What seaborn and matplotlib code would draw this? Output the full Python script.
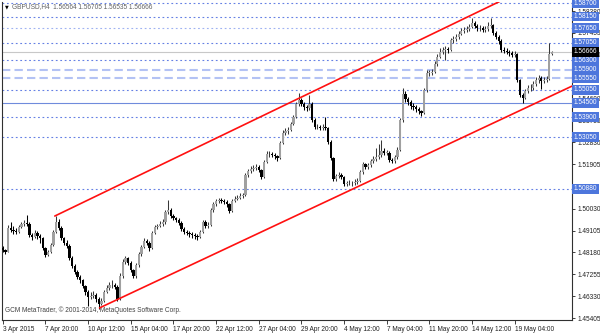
import numpy as np
import pandas as pd
import matplotlib
matplotlib.use("Agg")
import matplotlib.pyplot as plt
import matplotlib.transforms as mtransforms
import seaborn as sns

# ---------------- data (GBPUSD H4) ----------------
first_open = 1.4835
closes = [
    1.4829, 1.4820, 1.4922, 1.4913, 1.4909, 1.4905, 1.4926, 1.4939, 1.4943, 1.4939,
    1.4892, 1.4884, 1.4901, 1.4888, 1.4879, 1.4837, 1.4808, 1.4820, 1.4850, 1.4905,
    1.4947, 1.4922, 1.4879, 1.4858, 1.4846, 1.4795, 1.4761, 1.4736, 1.4715, 1.4702,
    1.4677, 1.4651, 1.4630, 1.4634, 1.4639, 1.4622, 1.4601, 1.4613, 1.4651, 1.4668,
    1.4681, 1.4681, 1.4672, 1.4622, 1.4719, 1.4778, 1.4795, 1.4774, 1.4744, 1.4719,
    1.4765, 1.4812, 1.4841, 1.4867, 1.4858, 1.4837, 1.4901, 1.4926, 1.4930, 1.4939,
    1.4947, 1.4989, 1.4998, 1.4972, 1.4964, 1.4955, 1.4943, 1.4918, 1.4905, 1.4901,
    1.4896, 1.4892, 1.4888, 1.4884, 1.4905, 1.4947, 1.4930, 1.4934, 1.4998, 1.5023,
    1.5036, 1.5040, 1.5036, 1.5032, 1.5023, 1.4994, 1.5036, 1.5044, 1.5049, 1.5057,
    1.5061, 1.5146, 1.5162, 1.5171, 1.5175, 1.5179, 1.5167, 1.5137, 1.5200, 1.5234,
    1.5234, 1.5230, 1.5226, 1.5217, 1.5281, 1.5323, 1.5332, 1.5336, 1.5361, 1.5391,
    1.5446, 1.5463, 1.5446, 1.5433, 1.5429, 1.5446, 1.5378, 1.5348, 1.5348, 1.5344,
    1.5348, 1.5344, 1.5285, 1.5217, 1.5129, 1.5141, 1.5146, 1.5137, 1.5108, 1.5112,
    1.5112, 1.5112, 1.5116, 1.5120, 1.5158, 1.5192, 1.5179, 1.5188, 1.5205, 1.5213,
    1.5222, 1.5230, 1.5247, 1.5239, 1.5239, 1.5209, 1.5205, 1.5222, 1.5251, 1.5378,
    1.5488, 1.5467, 1.5454, 1.5437, 1.5433, 1.5425, 1.5416, 1.5408, 1.5505, 1.5577,
    1.5577, 1.5581, 1.5615, 1.5644, 1.5665, 1.5674, 1.5678, 1.5674, 1.5716, 1.5720,
    1.5729, 1.5741, 1.5754, 1.5758, 1.5762, 1.5771, 1.5788, 1.5775, 1.5767, 1.5767,
    1.5758, 1.5762, 1.5775, 1.5779, 1.5746, 1.5729, 1.5712, 1.5674, 1.5670, 1.5665,
    1.5661, 1.5653, 1.5657, 1.5547, 1.5484, 1.5471, 1.5500, 1.5513, 1.5513, 1.5530,
    1.5547, 1.5555, 1.5543, 1.5547, 1.5551, 1.56564, 1.56666,
]
highs = [
    1.4845, 1.4833, 1.4935, 1.4945, 1.4930, 1.4922, 1.4935, 1.4948, 1.4955, 1.4975,
    1.4945, 1.4900, 1.4915, 1.4910, 1.4895, 1.4885, 1.4842, 1.4830, 1.4858, 1.4915,
    1.4972, 1.4960, 1.4928, 1.4885, 1.4870, 1.4852, 1.4802, 1.4770, 1.4742, 1.4722,
    1.4708, 1.4682, 1.4660, 1.4650, 1.4655, 1.4648, 1.4630, 1.4625, 1.4660, 1.4680,
    1.4695, 1.4700, 1.4690, 1.4680, 1.4730, 1.4790, 1.4805, 1.4800, 1.4780, 1.4750,
    1.4775, 1.4822, 1.4850, 1.4878, 1.4875, 1.4865, 1.4910, 1.4935, 1.4940, 1.4950,
    1.4958, 1.4998, 1.5040, 1.5005, 1.4980, 1.4970, 1.4962, 1.4950, 1.4925, 1.4915,
    1.4910, 1.4905, 1.4900, 1.4895, 1.4912, 1.4955, 1.4955, 1.4945, 1.5005, 1.5032,
    1.5045, 1.5050, 1.5048, 1.5044, 1.5038, 1.5028, 1.5045, 1.5055, 1.5060, 1.5068,
    1.5070, 1.5155, 1.5172, 1.5185, 1.5188, 1.5190, 1.5186, 1.5172, 1.5210, 1.5245,
    1.5248, 1.5242, 1.5238, 1.5232, 1.5290, 1.5335, 1.5345, 1.5348, 1.5370, 1.5400,
    1.5455, 1.5492, 1.5470, 1.5455, 1.5442, 1.5484, 1.5452, 1.5385, 1.5360, 1.5358,
    1.5360, 1.5391, 1.5350, 1.5292, 1.5222, 1.5150, 1.5158, 1.5152, 1.5142, 1.5122,
    1.5125, 1.5122, 1.5128, 1.5132, 1.5168, 1.5200, 1.5198, 1.5198, 1.5215, 1.5225,
    1.5260, 1.5275, 1.5293, 1.5258, 1.5250, 1.5245, 1.5218, 1.5232, 1.5262, 1.5388,
    1.5513, 1.5500, 1.5475, 1.5462, 1.5448, 1.5440, 1.5432, 1.5422, 1.5515, 1.5588,
    1.5590, 1.5595, 1.5625, 1.5655, 1.5680, 1.5688, 1.5690, 1.5688, 1.5725, 1.5732,
    1.5740, 1.5752, 1.5765, 1.5770, 1.5775, 1.5785, 1.5809, 1.5795, 1.5782, 1.5780,
    1.5775, 1.5775, 1.5790, 1.5809, 1.5785, 1.5752, 1.5735, 1.5718, 1.5685, 1.5680,
    1.5675, 1.5668, 1.5668, 1.5662, 1.5552, 1.5490, 1.5510, 1.5525, 1.5528, 1.5542,
    1.5560, 1.5568, 1.5562, 1.5558, 1.5562, 1.5703, 1.56705,
]
lows = [
    1.4822, 1.4812, 1.4818, 1.4905, 1.4898, 1.4895, 1.4900, 1.4920, 1.4930, 1.4930,
    1.4885, 1.4870, 1.4878, 1.4875, 1.4860, 1.4830, 1.4800, 1.4802, 1.4815, 1.4845,
    1.4900, 1.4915, 1.4870, 1.4848, 1.4835, 1.4788, 1.4752, 1.4728, 1.4705, 1.4690,
    1.4668, 1.4640, 1.4590, 1.4620, 1.4625, 1.4610, 1.4580, 1.4595, 1.4608, 1.4645,
    1.4660, 1.4670, 1.4662, 1.4615, 1.4618, 1.4712, 1.4770, 1.4765, 1.4735, 1.4710,
    1.4712, 1.4758, 1.4805, 1.4835, 1.4848, 1.4825, 1.4832, 1.4895, 1.4918, 1.4925,
    1.4932, 1.4940, 1.4982, 1.4965, 1.4955, 1.4945, 1.4935, 1.4910, 1.4895, 1.4890,
    1.4885, 1.4880, 1.4875, 1.4870, 1.4878, 1.4900, 1.4920, 1.4920, 1.4928, 1.4990,
    1.5015, 1.5028, 1.5028, 1.5022, 1.5012, 1.4985, 1.4990, 1.5030, 1.5038, 1.5042,
    1.5048, 1.5055, 1.5138, 1.5155, 1.5162, 1.5165, 1.5158, 1.5128, 1.5132, 1.5195,
    1.5222, 1.5220, 1.5215, 1.5205, 1.5212, 1.5275, 1.5315, 1.5320, 1.5330, 1.5355,
    1.5385, 1.5438, 1.5435, 1.5422, 1.5415, 1.5420, 1.5370, 1.5340, 1.5338, 1.5335,
    1.5336, 1.5335, 1.5278, 1.5208, 1.5120, 1.5122, 1.5132, 1.5128, 1.5100, 1.5098,
    1.5102, 1.5100, 1.5104, 1.5108, 1.5115, 1.5150, 1.5170, 1.5172, 1.5180, 1.5198,
    1.5205, 1.5215, 1.5222, 1.5228, 1.5228, 1.5200, 1.5195, 1.5198, 1.5215, 1.5245,
    1.5370, 1.5455, 1.5440, 1.5425, 1.5420, 1.5412, 1.5405, 1.5395, 1.5402, 1.5498,
    1.5565, 1.5568, 1.5575, 1.5608, 1.5638, 1.5655, 1.5630, 1.5660, 1.5668, 1.5705,
    1.5712, 1.5722, 1.5735, 1.5745, 1.5748, 1.5752, 1.5765, 1.5765, 1.5755, 1.5755,
    1.5748, 1.5750, 1.5755, 1.5765, 1.5738, 1.5720, 1.5700, 1.5665, 1.5660, 1.5655,
    1.5650, 1.5642, 1.5645, 1.5540, 1.5475, 1.5450, 1.5465, 1.5492, 1.5500, 1.5505,
    1.5522, 1.5535, 1.5510, 1.5532, 1.5538, 1.5545, 1.56535,
]

x_tick_bars = [0, 16, 32, 48, 64, 80, 96, 112, 128, 144, 160, 176, 192]
x_tick_labels = ["3 Apr 2015", "7 Apr 20:00", "10 Apr 12:00", "15 Apr 04:00",
                 "17 Apr 20:00", "22 Apr 12:00", "27 Apr 04:00", "29 Apr 20:00",
                 "4 May 12:00", "7 May 04:00", "11 May 20:00", "14 May 12:00",
                 "19 May 04:00"]
y_tick_values = [1.45405, 1.46330, 1.47255, 1.48180, 1.49105, 1.50030, 1.50955,
                 1.51905, 1.52830, 1.53755, 1.54680, 1.55605, 1.56530, 1.57455,
                 1.58380]
# labels hidden behind level boxes in the original are left blank
y_tick_labels = ["1.45405", "1.46330", "1.47255", "1.48180", "1.49105", "1.50030",
                 "", "1.51905", "1.52830", "1.53755", "1.54680", "",
                 "1.56530", "1.57455", "1.58380"]

levels_dotted = [1.58700, 1.58150, 1.57650, 1.57050, 1.56300, 1.55050,
                 1.53900, 1.53050, 1.50880]
levels_dashed = [1.55900, 1.55550]
levels_solid = [1.54500]
current_price = 1.56666

# channel trend lines (bar index, price)
upper_x = [19.5, 213.5]
upper_y = [1.4972, 1.6026]
lower_x = [36.3, 213.5]
lower_y = [1.4584, 1.5521]

title_text = "GBPUSD,H4  1.56564 1.56705 1.56535 1.56666"
copyright_text = "GCM MetaTrader, \u00a9 2001-2014, MetaQuotes Software Corp."

# ---------------- plotting ----------------
sns.set_theme(style="white")
plt.rcParams["font.family"] = ["Liberation Sans", "DejaVu Sans"]

FS = 4.7

fig = plt.figure(figsize=(6, 3.33), dpi=100)
fig.patch.set_facecolor("white")
ax = fig.add_axes([2 / 600, 13 / 333, 570 / 600, 318 / 333])
ax.set_facecolor("white")

opens = [first_open] + closes[:-1]   # each H4 bar opens at the prior close
df = pd.DataFrame(dict(bar=np.arange(len(closes)), open=opens, high=highs,
                       low=lows, close=closes))
bull = df["close"] >= df["open"]
body = (df["close"] - df["open"]).abs().clip(lower=0.00015)
bottom = df[["open", "close"]].min(axis=1)

# horizontal levels
for lv in levels_dotted:
    col = "#9fb2f2" if abs(lv - 1.57650) < 1e-6 else "#6580e4"
    ax.axhline(lv, color=col, lw=0.8, ls=(0, (1.6, 2.4)), zorder=1)
for lv in levels_dashed:
    ax.axhline(lv, color="#b3c2f4", lw=1.5, ls=(0, (4, 2)), zorder=1)
for lv in levels_solid:
    ax.axhline(lv, color="#6f8bdc", lw=0.8, zorder=1)
ax.axhline(current_price, color="#c8c8c8", lw=0.8, zorder=1)

# candles
ax.vlines(df["bar"][bull], df["low"][bull], df["high"][bull],
          color="#383838", lw=0.75, zorder=3)
ax.vlines(df["bar"][~bull], df["low"][~bull], df["high"][~bull],
          color="black", lw=0.75, zorder=3)
ax.bar(df["bar"][bull], body[bull], bottom=bottom[bull], width=0.85,
       color="#a0a0a0", edgecolor="none", zorder=4)
ax.bar(df["bar"][~bull], body[~bull], bottom=bottom[~bull], width=0.85,
       color="black", edgecolor="none", zorder=4)

# channel
sns.lineplot(x=upper_x, y=upper_y, ax=ax, color="#ff1010", lw=1.2,
             estimator=None, sort=False, zorder=5)
sns.lineplot(x=lower_x, y=lower_y, ax=ax, color="#ff1010", lw=1.2,
             estimator=None, sort=False, zorder=5)

ax.set_xlim(-0.3, 213.5)
ax.set_ylim(1.45328, 1.58763)

# axes styling
for s in ["left", "right", "bottom"]:
    ax.spines[s].set_visible(True)
    ax.spines[s].set_color("#303030")
    ax.spines[s].set_linewidth(0.8)
ax.spines["top"].set_visible(False)

ax.yaxis.tick_right()
ax.set_yticks(y_tick_values, y_tick_labels)
ax.tick_params(axis="y", which="both", right=True, left=False, direction="out",
               length=2.5, width=0.6, pad=1.2, labelsize=FS, colors="#202020")
ax.set_xticks(x_tick_bars, x_tick_labels)
ax.tick_params(axis="x", bottom=True, direction="out", length=3, width=0.6,
               pad=1.5, labelsize=FS, colors="#202020")
for lab in ax.get_xticklabels():
    lab.set_horizontalalignment("left")
ax.grid(False)

# level labels on the price scale
trans = mtransforms.blended_transform_factory(ax.transAxes, ax.transData)
for lv in levels_dotted + levels_dashed + levels_solid:
    ax.text(1.003, lv, f"{lv:.5f}", transform=trans, ha="left", va="center",
            fontsize=FS, color="white", clip_on=False, zorder=10,
            bbox=dict(boxstyle="square,pad=0.22", fc="#4d76dc", ec="none"))
ax.text(1.003, current_price, f"{current_price:.5f}", transform=trans,
        ha="left", va="center", fontsize=FS, color="white", clip_on=False,
        zorder=11, bbox=dict(boxstyle="square,pad=0.22", fc="black", ec="none"))

# texts
ax.text(3 / 570, 1 - 5 / 318, "\u25bc", transform=ax.transAxes, fontsize=3.5,
        color="black", ha="left", va="center", family=["DejaVu Sans"])
ax.text(10 / 570, 1 - 5 / 318, title_text, transform=ax.transAxes, fontsize=FS,
        color="#606060", ha="left", va="center")
ax.text(3 / 570, 10 / 318, copyright_text, transform=ax.transAxes, fontsize=FS,
        color="#404040", ha="left", va="center")

fig.savefig("out.png", dpi=100)
